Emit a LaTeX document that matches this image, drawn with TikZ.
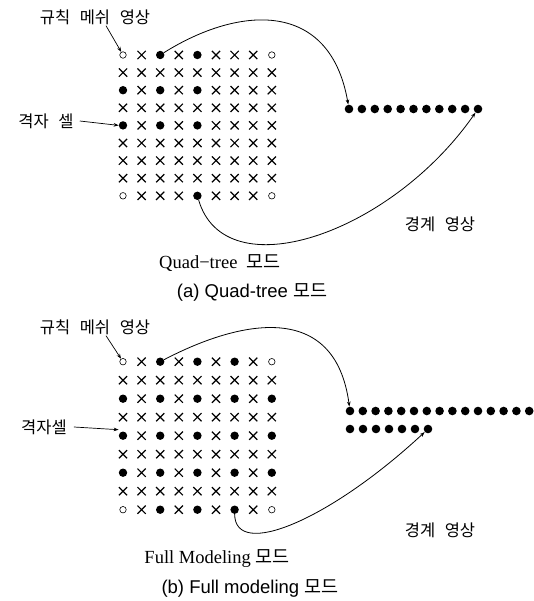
\documentclass[tikz,border=0pt]{standalone}
\usepackage{fontspec}
\setmainfont{Liberation Serif}
\newfontfamily\krfont[WordSpace=2.6]{Noto Sans CJK KR}
\newfontfamily\capfont{Liberation Sans}
\usetikzlibrary{arrows.meta,shapes.misc}

\begin{document}
\begin{tikzpicture}[x=1pt,y=-1pt,>={Stealth[length=5pt,width=3.6pt]},
  mko/.style={circle,draw,line width=0.6pt,inner sep=0pt,minimum size=6.5pt},
  mkd/.style={circle,fill,inner sep=0pt,minimum size=8.4pt},
  mkx/.style={cross out,draw,line width=1.2pt,inner sep=0pt,minimum size=7pt},
  bdot/.style={circle,fill,inner sep=0pt,minimum size=8.6pt},
  lbl/.style={font=\krfont\fontsize{16.5}{19}\selectfont,inner sep=1pt},
  mode/.style={font=\fontsize{18.5}{21}\selectfont,inner sep=1pt},
  capt/.style={font=\capfont\fontsize{18.5}{21}\selectfont,inner sep=1pt},
  link/.style={->,line width=0.8pt},
  ptr/.style={->,line width=0.7pt}]
\useasboundingbox (0,0) rectangle (534,601);
% (a) quad-tree: grid 9x9, o corner, d node, x skipped
\foreach \row [count=\r from 0] in {{o,x,d,x,d,x,x,x,o},{x,x,x,x,x,x,x,x,x},{d,x,d,x,d,x,x,x,x},{x,x,x,x,x,x,x,x,x},{d,x,d,x,d,x,x,x,x},{x,x,x,x,x,x,x,x,x},{x,x,x,x,x,x,x,x,x},{x,x,x,x,x,x,x,x,x},{o,x,x,x,d,x,x,x,o}}
  \foreach \s [count=\c from 0] in \row
    \node[mk\s] (qa-\r-\c) at ({123+18.6*\c},{55+17.6*\r}) {};
\foreach \i in {1,...,11} \node[bdot] (ba-\i) at ({349+12.9*(\i-1)},109) {};
\node[lbl] (rma) at (95,17) {규칙 메쉬 영상};
\node[lbl] (gca) at (46,121) {격자 셀};
\node[lbl] (bia) at (440,224) {경계 영상};
\draw[ptr] ([xshift=11pt]rma.south) -- (qa-0-0);
\draw[ptr] ([xshift=5pt]gca.east) -- (qa-4-0.west);
\draw[link] (qa-0-2) .. controls (240,5) and (330,0) .. (ba-1);
\draw[link] (qa-8-4) .. controls (225,290) and (390,235) .. (ba-11);
\node[mode] (qtm) at (220,263) {Quad−tree~~{\krfont 모드}};
\node[capt] (capa) at (252,292) {(a) Quad-tree {\krfont 모드}};
% (b) full modeling: every other node kept
\foreach \row [count=\r from 0] in {{o,x,d,x,d,x,d,x,o},{x,x,x,x,x,x,x,x,x},{d,x,d,x,d,x,d,x,d},{x,x,x,x,x,x,x,x,x},{d,x,d,x,d,x,d,x,d},{x,x,x,x,x,x,x,x,x},{d,x,d,x,d,x,d,x,d},{x,x,x,x,x,x,x,x,x},{o,x,d,x,d,x,d,x,o}}
  \foreach \s [count=\c from 0] in \row
    \node[mk\s] (qb-\r-\c) at ({123+18.6*\c},{361.7+18.5*\r}) {};
\foreach \i in {1,...,15} \node[bdot] (bb-\i) at ({350+12.8*(\i-1)},411) {};
\foreach \i in {1,...,7} \node[bdot] (bc-\i) at ({350+13*(\i-1)},429) {};
\node[lbl] (rmb) at (95,327) {규칙 메쉬 영상};
\node[lbl] (gcb) at (44,427) {격자셀};
\node[lbl] (bib) at (440,530) {경계 영상};
\draw[ptr] ([xshift=11pt]rmb.south) -- (qb-0-0);
\draw[ptr] ([xshift=6pt]gcb.east) -- ([yshift=6pt]qb-4-0.west);
\draw[link] (qb-0-2) .. controls (240,320) and (335,300) .. (bb-1);
\draw[link] (qb-8-6) .. controls (235,560) and (330,520) .. (bc-7);
\node[mode] (fmm) at (217,559) {Full Modeling~{\krfont 모드}};
\node[capt] (capb) at (250,588) {(b) Full modeling {\krfont 모드}};
\end{tikzpicture}
\end{document}
